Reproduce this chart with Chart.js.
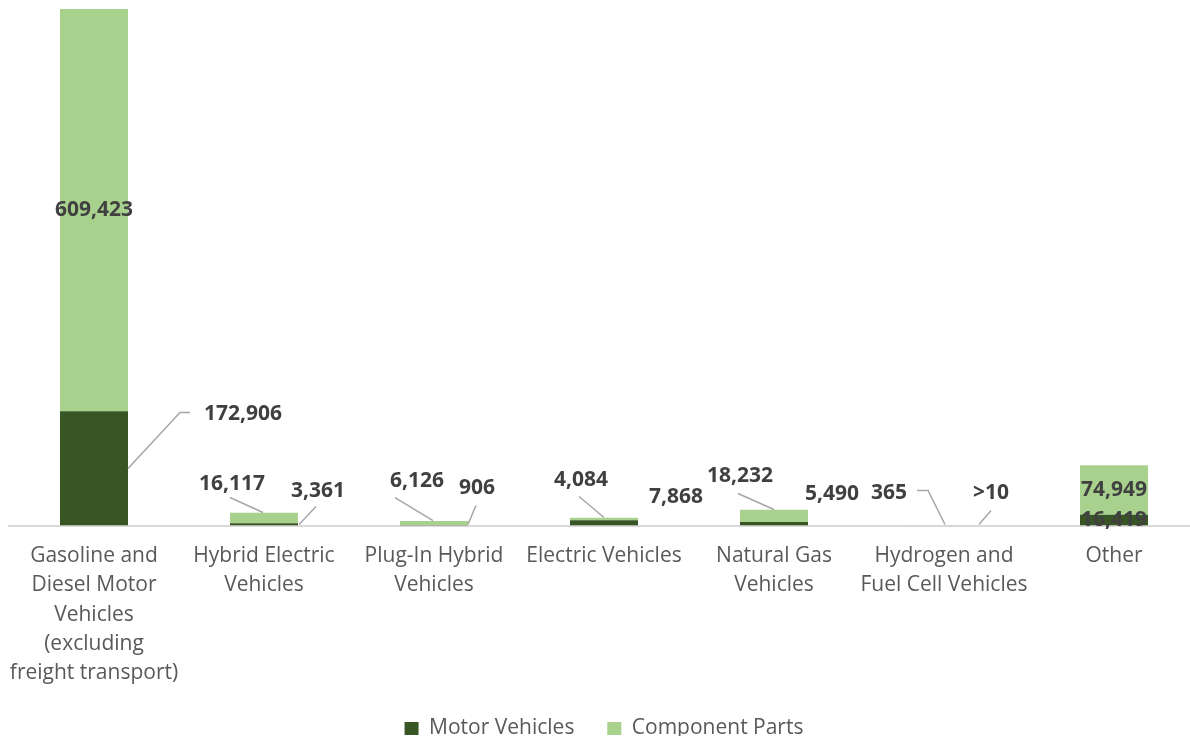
<!DOCTYPE html>
<html>
<head>
<meta charset="utf-8">
<script src="https://cdn.jsdelivr.net/npm/chart.js@4.4.1/dist/chart.umd.min.js"></script>
<style>
  html, body { margin: 0; padding: 0; background: #fff; overflow: hidden; }
  #wrap { position: relative; width: 1199px; height: 749px; }
</style>
</head>
<body>
<div id="wrap"><canvas id="chart"></canvas></div>
<script>
// categories (multi-line tick labels)
const categories = [
    ['Gasoline and', 'Diesel Motor', 'Vehicles', '(excluding', 'freight transport)'],
    ['Hybrid Electric', 'Vehicles'],
    ['Plug-In Hybrid', 'Vehicles'],
    ['Electric Vehicles'],
    ['Natural Gas', 'Vehicles'],
    ['Hydrogen and', 'Fuel Cell Vehicles'],
    ['Other']
];

const motorVehicles = [172906, 3361, 906, 7868, 5490, 10, 16419];
const componentParts = [609423, 16117, 6126, 4084, 18232, 365, 74949];

const motorLabels = ['172,906', '3,361', '906', '7,868', '5,490', '>10', '16,419'];
const componentLabels = ['609,423', '16,117', '6,126', '4,084', '18,232', '365', '74,949'];

// label placement, relative to (bar centre x, zero line y); null = centred in segment
const motorPlacement = [
    { dx: 149, dy: -112, line: [[34, -57], [86, -113], [96, -113]] },
    { dx: 54, dy: -35, line: [[52, -19], [35, -1]] },
    { dx: 43, dy: -38, line: [[42, -20], [34, -1]] },
    { dx: 72, dy: -29 },
    { dx: 58, dy: -32 },
    { dx: 47, dy: -33, line: [[47, -15], [35, -1]] },
    null
];
const componentPlacement = [
    null,
    { dx: -32, dy: -42, line: [[-34, -28], [-1, -13]] },
    { dx: -17, dy: -45, line: [[-39, -28], [-1, -5]] },
    { dx: -23, dy: -46, line: [[-25, -29], [0, -8]] },
    { dx: -34, dy: -50, line: [[-36, -32], [0, -16]] },
    { dx: -55, dy: -33, line: [[-27, -35], [-16, -35], [1, -1]] },
    null
];

const DARK = '#375623';
const LIGHT = '#A9D18E';
const FONT = "'Open Sans', sans-serif";

const dataLabelPlugin = {
    id: 'dataLabels',
    afterDatasetsDraw(chart) {
        const ctx = chart.ctx;
        const zeroY = chart.scales.y.getPixelForValue(0);
        const sets = [
            { texts: motorLabels, place: motorPlacement },
            { texts: componentLabels, place: componentPlacement }
        ];
        ctx.save();
        for (let d = 0; d < sets.length; d++) {
            const meta = chart.getDatasetMeta(d);
            meta.data.forEach(function(bar, i) {
                const p = sets[d].place[i];
                let tx, ty;
                if (!p) {
                    tx = bar.x;
                    ty = (bar.y + bar.base) / 2;
                } else {
                    tx = bar.x + p.dx;
                    ty = zeroY + p.dy;
                    if (p.line) {
                        ctx.beginPath();
                        ctx.strokeStyle = '#A6A6A6';
                        ctx.lineWidth = 1.5;
                        p.line.forEach(function(pt, k) {
                            const px = bar.x + pt[0], py = zeroY + pt[1];
                            if (k === 0) ctx.moveTo(px, py); else ctx.lineTo(px, py);
                        });
                        ctx.stroke();
                    }
                }
                ctx.font = 'bold 21px ' + FONT;
                ctx.fillStyle = '#404040';
                ctx.textAlign = 'center';
                ctx.textBaseline = 'middle';
                ctx.fillText(sets[d].texts[i], tx, ty);
            });
        }
        ctx.restore();
    }
};

new Chart(document.getElementById('chart'), {
    type: 'bar',
    data: {
        labels: categories,
        datasets: [
            { label: 'Motor Vehicles', data: motorVehicles, backgroundColor: DARK },
            { label: 'Component Parts', data: componentParts, backgroundColor: LIGHT }
        ]
    },
    options: {
        responsive: true,
        maintainAspectRatio: false,
        animation: false,
        layout: { padding: { left: 9, right: 0, top: 9, bottom: 0 } },
        datasets: { bar: { categoryPercentage: 0.8, barPercentage: 0.5 } },
        plugins: {
            legend: {
                position: 'bottom',
                labels: {
                    font: { family: FONT, size: 21 },
                    color: '#595959',
                    boxWidth: 14,
                    boxHeight: 13,
                    padding: 22,
                    // widen the gap between the two entries a little
                    generateLabels: function(chart) {
                        const items = Chart.defaults.plugins.legend.labels.generateLabels(chart);
                        items.forEach(function(it, i) {
                            if (i < items.length - 1) it.text += '\u00A0\u00A0';
                        });
                        return items;
                    }
                }
            },
            tooltip: { enabled: false }
        },
        scales: {
            x: {
                stacked: true,
                grid: { display: false },
                border: { display: true, color: '#D9D9D9', width: 2 },
                ticks: {
                    autoSkip: false,
                    maxRotation: 0,
                    minRotation: 0,
                    padding: 8,
                    color: '#595959',
                    font: { family: FONT, size: 21, lineHeight: 1.395 }
                }
            },
            y: {
                stacked: true,
                display: false,
                min: 0,
                max: 782329
            }
        }
    },
    plugins: [dataLabelPlugin]
});
</script>
</body>
</html>
